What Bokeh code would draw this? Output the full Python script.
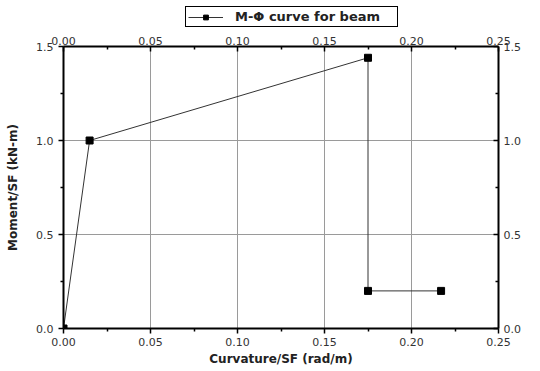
from bokeh.plotting import figure
from bokeh.layouts import column
from bokeh.models import (Range1d, LinearAxis, FixedTicker, PrintfTickFormatter,
                          Legend, LegendItem)
from bokeh.embed import file_html
from bokeh.resources import INLINE

# ---- data ----
curvature = [0.0, 0.015, 0.175, 0.175, 0.217]
moment = [0.0, 1.0, 1.44, 0.2, 0.2]
x_ticks = [0.0, 0.05, 0.10, 0.15, 0.20, 0.25]
x_minor = [0.025, 0.075, 0.125, 0.175, 0.225]
y_ticks = [0.0, 0.5, 1.0, 1.5]
y_minor = [0.25, 0.75, 1.25]
series_label = "M-Φ curve for beam"
x_title = "Curvature/SF (rad/m)"
y_title = "Moment/SF (kN-m)"

FONT = "DejaVu Sans"
LINE_COLOR = "#333333"

p = figure(width=540, height=341, output_backend="svg", toolbar_location=None,
           x_range=Range1d(0, 0.25), y_range=Range1d(0, 1.5),
           min_border_left=63, min_border_right=42, min_border_top=16,
           min_border_bottom=43, background_fill_color="white",
           border_fill_color="white")
p.outline_line_color = None

# grids
p.xgrid.ticker = FixedTicker(ticks=x_ticks)
p.ygrid.ticker = FixedTicker(ticks=y_ticks)
for g in (p.xgrid, p.ygrid):
    g.grid_line_color = "#9a9a9a"
    g.grid_line_width = 1

def style_axis(ax, outward=True):
    ax.axis_line_color = "black"
    ax.axis_line_width = 2
    ax.major_tick_line_color = "black"
    ax.minor_tick_line_color = "black"
    ax.major_tick_line_width = 1.5
    ax.minor_tick_line_width = 1.5
    if outward:
        ax.major_tick_out = 5
        ax.major_tick_in = 0
        ax.minor_tick_out = 3
        ax.minor_tick_in = 0
    else:
        ax.major_tick_out = 0
        ax.major_tick_in = 5
        ax.minor_tick_out = 0
        ax.minor_tick_in = 3
    ax.major_label_text_font = FONT
    ax.major_label_text_font_size = "11px"
    ax.major_label_text_color = "#333333"
    ax.axis_label_text_font = FONT
    ax.axis_label_text_font_size = "12px"
    ax.axis_label_text_font_style = "bold"
    ax.axis_label_text_color = "#222222"

# bottom axis
xb = p.xaxis[0]
xb.ticker = FixedTicker(ticks=x_ticks, minor_ticks=x_minor)
xb.formatter = PrintfTickFormatter(format="%.2f")
xb.axis_label = x_title
style_axis(xb, True)
xb.major_label_standoff = 4
xb.axis_label_standoff = 3

# left axis
yl = p.yaxis[0]
yl.ticker = FixedTicker(ticks=y_ticks, minor_ticks=y_minor)
yl.formatter = PrintfTickFormatter(format="%.1f")
yl.axis_label = y_title
style_axis(yl, True)
yl.major_label_standoff = 5
yl.axis_label_standoff = 13

# top axis (mirror)
xt = LinearAxis(ticker=FixedTicker(ticks=x_ticks, minor_ticks=x_minor),
                formatter=PrintfTickFormatter(format="%.2f"))
style_axis(xt, False)
xt.major_label_standoff = 2
p.add_layout(xt, "above")

# right axis (mirror)
yr = LinearAxis(ticker=FixedTicker(ticks=y_ticks, minor_ticks=y_minor),
                formatter=PrintfTickFormatter(format="%.1f"))
style_axis(yr, False)
yr.major_label_standoff = 5
p.add_layout(yr, "right")

# series
p.line(curvature, moment, line_color=LINE_COLOR, line_width=1)
p.scatter(curvature, moment, marker="square", size=7,
          fill_color="black", line_color="black")

# legend strip above the plot; its renderers use the same series but the
# strip's y range lies outside the data, so only the legend entry shows
lf = figure(width=540, height=30, output_backend="svg", toolbar_location=None,
            x_range=Range1d(0, 0.25), y_range=Range1d(10, 11),
            x_axis_type=None, y_axis_type=None,
            min_border_left=0, min_border_right=0, min_border_top=0,
            min_border_bottom=0, background_fill_color="white",
            border_fill_color="white")
lf.outline_line_color = None
lf.xgrid.visible = False
lf.ygrid.visible = False
lg_line = lf.line(curvature, moment, line_color=LINE_COLOR, line_width=1)
lg_mark = lf.scatter(curvature, moment, marker="square", size=7,
                     fill_color="black", line_color="black")

legend = Legend(items=[LegendItem(label=series_label, renderers=[lg_line, lg_mark])],
                location=(122, 3), margin=0, padding=2, spacing=0,
                glyph_width=35, glyph_height=12, label_height=12,
                label_standoff=12, label_width=160,
                label_text_font=FONT, label_text_font_size="13px",
                label_text_font_style="bold", label_text_color="#222222",
                border_line_color="black", border_line_width=1,
                border_line_alpha=1,
                background_fill_color="white", background_fill_alpha=1)
lf.add_layout(legend, "center")

layout = column(lf, p, spacing=0)

open("out.html", "w").write(file_html(layout, INLINE))
